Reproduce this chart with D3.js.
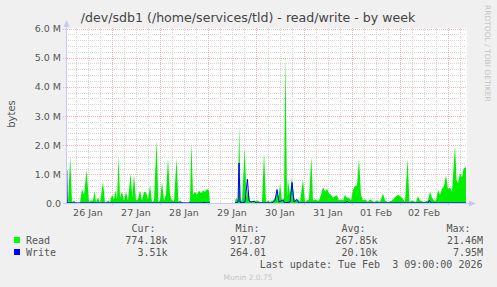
<!DOCTYPE html>
<html>
<head>
<meta charset="utf-8">
<script src="https://cdn.jsdelivr.net/npm/d3@7"></script>
<style>
  body { margin: 0; background: #f0f0f0; }
  svg text { font-family: "DejaVu Sans", sans-serif; }
  .mono { font-family: "DejaVu Sans Mono", monospace !important; white-space: pre; }
</style>
</head>
<body>
<script>
// hours after 26 Jan 2026 00:00, values in M (bytes/s)
const readHours = [1, 2, 3.1, 4, 5, 6, 8, 9, 10, 11.3, 12.5, 13.5, 14.5, 15.3, 16, 17, 18, 19.5, 20.5, 22, 23,
  24, 25, 25.7, 26.5, 27.3, 28, 29, 30, 31, 32, 33.3, 34.2, 35, 36, 37, 38, 39, 40, 41, 42, 43, 44, 45,
  46.3, 47.2, 48, 49, 50, 51, 52, 53, 54, 55, 56.3, 57.2, 58, 59, 60, 62, 63, 63.7, 64.5, 65.5, 66.5,
  67.5, 68.5, 69.5, 70.5, 71.5, 72.5, 73, 79, 85.5, 86, 87, 87.6, 88.3, 89, 90.4, 91.2, 92, 93, 94, 95,
  96, 97, 98, 99, 100, 101, 102, 103, 104.5, 105.5, 106.5, 107.3, 108, 109, 110, 110.7, 111.5, 112, 113,
  114, 115, 116, 117, 118, 119.5, 120.5, 121.5, 122.5, 123.7, 124.5, 125.5, 126.5, 127.5, 128.5, 129.5,
  130.5, 131.5, 132.5, 133.5, 134.5, 135.5, 136.5, 137.5, 138.5, 139.5, 140.5, 141.5, 142.5, 143.5,
  144.5, 145.5, 146.5, 147.5, 148.5, 149.5, 150.5, 152, 153, 155, 156.5, 158, 159.5, 160.5, 162, 164,
  166, 167, 168, 169, 170.5, 171.8, 172.7, 174, 176, 177, 178, 180, 182, 183, 184, 185, 186, 187, 188,
  189, 190, 191, 192, 193, 194, 195.5, 196.3, 197, 198, 199, 199.8, 201];
const readValues = [0.05, 0.05, 1.6, 0.05, 0.1, 0.02, 0.02, 0.5, 0.3, 1.14, 0.05, 0.1, 0.1, 0.43, 0.05, 0.2, 0.02, 0.75, 0.02, 0.1, 0.05,
  0.3, 0.15, 0.45, 0.15, 1.62, 0.2, 0.4, 0.1, 0.4, 0.1, 1.03, 0.2, 1.0, 0.1, 0.15, 0.45, 0.1, 0.4, 0.38, 0.15, 0.63, 0.05, 0.1,
  2.17, 0.05, 0.1, 0.74, 0.1, 0.3, 1.55, 0.3, 0.1, 0.08, 1.55, 0.05, 0.1, 0.05, 0, 0, 0.1, 2.1, 0.3, 0.4, 0.3,
  0.45, 0.35, 0.45, 0.4, 0.5, 0.45, 0, null, 0.05, 0.2, 0.1, 2.7, 0.1, 0.1, 1.9, 0.2, 0.5, 0.1, 0.05, 0.1,
  0.08, 0.1, 0.05, 0.05, 1.76, 0.05, 0.1, 0.05, 0.1, 0.2, 0.4, 0.2, 0.69, 0.1, 0.2, 5.15, 0.2, 0.8, 0.3,
  0.9, 0.2, 0.1, 0.15, 0.05, 0.82, 0.05, 0.1, 0.15, 1.6, 0.1, 0.15, 0.1, 0.1, 0.3, 0.57,
  0.4, 0.5, 0.34, 0.3, 0.2, 0.25, 0.28, 0.1, 0.15, 0.1, 0.3, 0.2, 0.2, 0.1,
  0.46, 0.6, 0.63, 1.54, 0.3, 0.1, 0.15, 0.05, 0.15, 0.05, 0.1, 0.05, 0.34, 0.1, 0.05, 0.1,
  0.25, 0.3, 0.25, 0.2, 0.05, 1.54, 0.05, 0.1, 0.05, 0.25, 0.1, 0.05, 0.1, 0.4, 0.2, 0.1, 0.1, 0.46, 0.3,
  0.51, 0.6, 0.97, 0.5, 0.55, 0.4, 2.0, 0.8, 0.7, 1.03, 0.9, 1.2, 1.25];

const writeHours = [1, 1.4, 1.6, 69, 70, 71, 73, 79, 85.5, 87, 87.5, 88, 89, 90.5, 91.7, 92.5, 93.5, 94.3, 95.3, 96,
  104, 105.5, 106.5, 107.5, 109.5, 110.3, 113, 114, 115, 116.5, 117.3, 140, 141.7, 142.5, 182, 182.7, 183.5, 201];
const writeValues = [1.14, 1.14, 0.02, 0.02, 0.04, 0.02, 0.02, null, 0.02, 0.05, 1.39, 0.05, 0.02, 0.05, 0.83, 0.1, 0.05, 0.07, 0.07, 0.02,
  0.02, 0.1, 0.48, 0.05, 0.12, 0.02, 0.05, 0.72, 0.05, 0.14, 0.02, 0.02, 0.06, 0.02, 0.02, 0.11, 0.02, 0.02];

const yTicks = [0, 1, 2, 3, 4, 5, 6];
const yLabels = ["0.0", "1.0 M", "2.0 M", "3.0 M", "4.0 M", "5.0 M", "6.0 M"];
const dayLabels = ["26 Jan", "27 Jan", "28 Jan", "29 Jan", "30 Jan", "31 Jan", "01 Feb", "02 Feb"];

const seriesNames = ["Read", "Write"];
const seriesColors = ["#00ee00", "#0000ff"];
const curValues = ["774.18k", "3.51k"];
const minValues = ["917.87", "264.01"];
const avgValues = ["267.85k", "20.10k"];
const maxValues = ["21.46M", "7.95M"];

const base = Date.UTC(2026, 0, 26);
const t = h => new Date(base + h * 3600e3);

const svg = d3
  .select("body")
  .append("svg")
  .attr("width", 497)
  .attr("height", 287);

svg.append("rect").attr("width", 497).attr("height", 287).attr("fill", "#f0f0f0");

const x = d3.scaleUtc().domain([t(1), t(201)]).range([66, 466]);
const y = d3.scaleLinear().domain([0, 6e6]).range([203.5, 28.5]);

// plot background
svg.append("rect")
  .attr("x", 66).attr("y", 28).attr("width", 401).attr("height", 176)
  .attr("fill", "#ffffff");

// minor grid
const minorY = d3.range(0.2, 6, 0.2).filter(v => Math.abs(v - Math.round(v)) > 0.01);
svg.append("g").selectAll("line").data(minorY).join("line")
  .attr("x1", 66).attr("x2", 466)
  .attr("y1", d => Math.round(y(d * 1e6)) + 0.5).attr("y2", d => Math.round(y(d * 1e6)) + 0.5)
  .attr("stroke", "#d4d4d4").attr("stroke-dasharray", "1,1");

const minorX = d3.range(6, 201, 6).filter(h => h % 24 != 0);
svg.append("g").selectAll("line").data(minorX).join("line")
  .attr("x1", d => Math.round(x(t(d))) + 0.5).attr("x2", d => Math.round(x(t(d))) + 0.5)
  .attr("y1", 28).attr("y2", 203)
  .attr("stroke", "#d4d4d4").attr("stroke-dasharray", "1,1");

// major grid
svg.append("g").selectAll("line").data(yTicks.slice(1)).join("line")
  .attr("x1", 63).attr("x2", 466)
  .attr("y1", d => Math.round(y(d * 1e6)) + 0.5).attr("y2", d => Math.round(y(d * 1e6)) + 0.5)
  .attr("stroke", "#ecb4b4").attr("stroke-dasharray", "1,1");

const majorX = d3.range(24, 201, 24);
svg.append("g").selectAll("line").data(majorX).join("line")
  .attr("x1", d => Math.round(x(t(d))) + 0.5).attr("x2", d => Math.round(x(t(d))) + 0.5)
  .attr("y1", 28).attr("y2", 206)
  .attr("stroke", "#ecb4b4").attr("stroke-dasharray", "1,1");

// data
const readData = readHours.map((h, i) => ({ t: t(h), v: readValues[i] }));
const writeData = writeHours.map((h, i) => ({ t: t(h), v: writeValues[i] }));

svg.append("path")
  .datum(readData)
  .attr("fill", seriesColors[0])
  .attr("d", d3.area()
    .defined(d => d.v != null)
    .x(d => x(d.t))
    .y0(y(0))
    .y1(d => y(d.v * 1e6)));

svg.append("path")
  .datum(writeData)
  .attr("fill", "none")
  .attr("stroke", seriesColors[1])
  .attr("stroke-width", 1)
  .attr("d", d3.line()
    .defined(d => d.v != null)
    .x(d => x(d.t))
    .y(d => y(d.v * 1e6)));

// axes with arrows
const axisColor = "#c8c8f4";
svg.append("line").attr("x1", 66.5).attr("x2", 66.5).attr("y1", 24).attr("y2", 204)
  .attr("stroke", axisColor);
svg.append("line").attr("x1", 63).attr("x2", 471).attr("y1", 203.5).attr("y2", 203.5)
  .attr("stroke", axisColor);
svg.append("path").attr("d", "M63.5,27 L66.5,20 L69.5,27 Z").attr("fill", axisColor);
svg.append("path").attr("d", "M469,200.5 L476,203.5 L469,206.5 Z").attr("fill", axisColor);

// y labels
svg.append("g").selectAll("text").data(yTicks).join("text")
  .attr("x", 61)
  .attr("y", d => y(d * 1e6) + 3.5)
  .attr("text-anchor", "end")
  .attr("font-size", 9.5)
  .attr("fill", "#555")
  .text((d, i) => yLabels[i]);

// x labels at noon
svg.append("g").selectAll("text").data(dayLabels).join("text")
  .attr("x", (d, i) => x(t(12 + 24 * i)))
  .attr("y", 216)
  .attr("text-anchor", "middle")
  .attr("font-size", 9.5)
  .attr("fill", "#555")
  .text(d => d);

// title
svg.append("text")
  .attr("x", 248).attr("y", 22)
  .attr("text-anchor", "middle")
  .attr("font-size", 12.6)
  .attr("fill", "#444")
  .text("/dev/sdb1 (/home/services/tld) - read/write - by week");

svg.append("text")
  .attr("transform", "translate(15,114) rotate(-90)")
  .attr("text-anchor", "middle")
  .attr("font-size", 10)
  .attr("fill", "#555")
  .text("bytes");

svg.append("text")
  .attr("transform", "translate(485,5) rotate(90)")
  .attr("font-size", 7.5)
  .attr("fill", "#c4c4c4")
  .text("RRDTOOL / TOBI OETIKER");

// legend
const cols = [
  { head: "Cur:", headX: 155.5, valX: 167.5, vals: curValues },
  { head: "Min:", headX: 259.5, valX: 266, vals: minValues },
  { head: "Avg:", headX: 365.5, valX: 377.5, vals: avgValues },
  { head: "Max:", headX: 470.5, valX: 483, vals: maxValues }
];

cols.forEach(c => {
  svg.append("text").attr("class", "mono")
    .attr("x", c.headX).attr("y", 232)
    .attr("text-anchor", "end").attr("font-size", 10).attr("fill", "#555")
    .text(c.head);
  c.vals.forEach((v, i) => {
    svg.append("text").attr("class", "mono")
      .attr("x", c.valX).attr("y", 243.5 + i * 12)
      .attr("text-anchor", "end").attr("font-size", 10).attr("fill", "#555")
      .text(v);
  });
});

seriesNames.forEach((n, i) => {
  svg.append("rect")
    .attr("x", 14).attr("y", 237 + i * 12).attr("width", 6).attr("height", 6)
    .attr("fill", i == 0 ? "#00ff00" : "#0000ff");
  svg.append("text").attr("class", "mono")
    .attr("x", 26).attr("y", 243.5 + i * 12)
    .attr("font-size", 10).attr("fill", "#555")
    .text(n);
});

svg.append("text").attr("class", "mono")
  .attr("x", 482.5).attr("y", 268)
  .attr("text-anchor", "end").attr("font-size", 10).attr("fill", "#555")
  .text("Last update: Tue Feb  3 09:00:00 2026");

svg.append("text")
  .attr("x", 248).attr("y", 279.5)
  .attr("text-anchor", "middle")
  .attr("font-size", 7.5)
  .attr("fill", "#c4c4c4")
  .text("Munin 2.0.75");
</script>
</body>
</html>
